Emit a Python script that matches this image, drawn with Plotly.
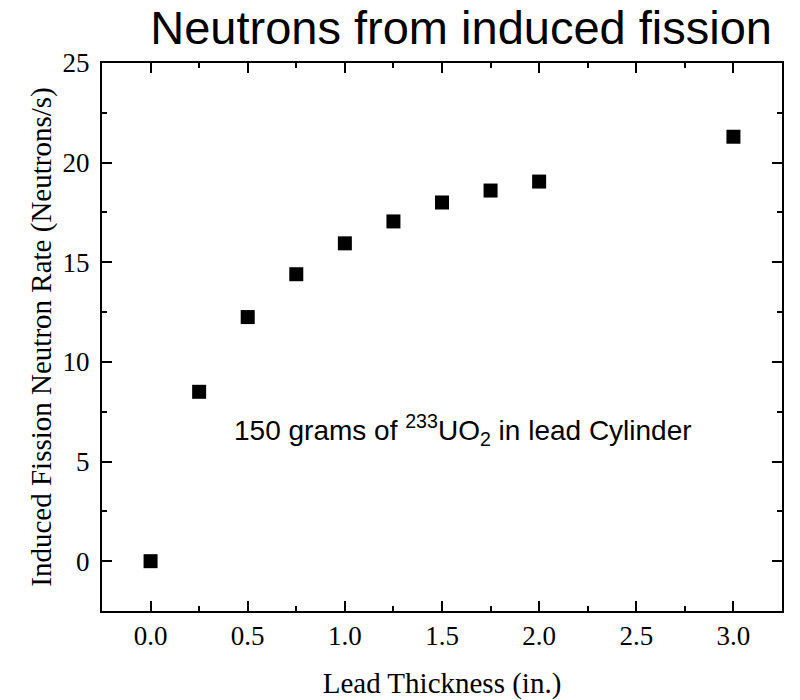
import plotly.graph_objects as go

thickness = [0.0, 0.25, 0.5, 0.75, 1.0, 1.25, 1.5, 1.75, 2.0, 3.0]
rate = [0.0, 8.5, 12.25, 14.4, 15.95, 17.05, 18.0, 18.6, 19.05, 21.3]

x_tickvals = [0, 0.5, 1.0, 1.5, 2.0, 2.5, 3.0]
x_ticktext = ["0.0", "0.5", "1.0", "1.5", "2.0", "2.5", "3.0"]
y_tickvals = [0, 5, 10, 15, 20, 25]

fig = go.Figure()
fig.add_trace(go.Scatter(
    x=thickness, y=rate, mode="markers",
    marker=dict(symbol="square", size=14, color="black", line=dict(width=0)),
    showlegend=False,
))

serif = "Liberation Serif"
axis_common = dict(
    showline=True, linecolor="black", linewidth=2, mirror="ticks",
    ticks="inside", tickcolor="black", tickwidth=2, ticklen=10,
    showgrid=False, zeroline=False, automargin=False,
    tickfont=dict(family=serif, size=27, color="black"),
)

fig.update_xaxes(
    range=[-0.25, 3.25], tickmode="array",
    tickvals=x_tickvals, ticktext=x_ticktext,
    minor=dict(ticks="inside", ticklen=5, tickwidth=2, tickcolor="black", dtick=0.25, tick0=0, showgrid=False),
    title=dict(text="Lead Thickness (in.)", font=dict(family=serif, size=29, color="black"), standoff=23),
    **axis_common,
)
fig.update_yaxes(
    range=[-2.5, 25], tickmode="array",
    tickvals=y_tickvals, ticklabelstandoff=5,
    minor=dict(ticks="inside", ticklen=5, tickwidth=2, tickcolor="black", dtick=2.5, tick0=0, showgrid=False),
    title=dict(text="Induced Fission Neutron Rate (Neutrons/s)", font=dict(family=serif, size=29, color="black"), standoff=2),
    **axis_common,
)

fig.add_annotation(
    x=1.61, y=6.6, xref="x", yref="y",
    text="150 grams of <sup>233</sup>UO<sub>2</sub> in lead Cylinder",
    showarrow=False,
    font=dict(family="Liberation Sans", size=28, color="black"),
)

fig.update_layout(
    width=800, height=700,
    margin=dict(l=102, r=18, t=63, b=89, autoexpand=False),
    paper_bgcolor="white", plot_bgcolor="white",
    title=dict(text="Neutrons from induced fission", x=0.965, xanchor="right", y=0.96, yanchor="middle",
               font=dict(family="Liberation Sans", size=47, color="black")),
)

fig.write_html("out.html")
